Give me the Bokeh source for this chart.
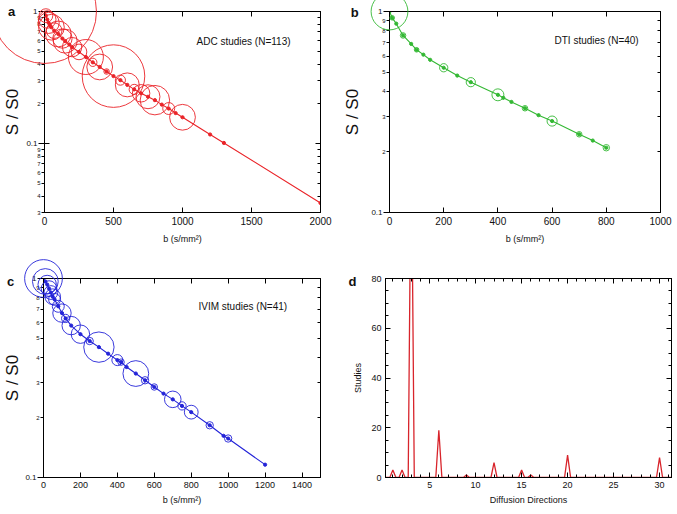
import numpy as np
from bokeh.plotting import figure
from bokeh.layouts import column, row
from bokeh.models import (Range1d, FixedTicker, LogAxis, LinearAxis, CustomJSTickFormatter,
                          Label, ColumnDataSource, SingleIntervalTicker)
from bokeh.embed import file_html
from bokeh.resources import INLINE
from bokeh.core.properties import value

FONT = "Liberation Sans"
RED = "#ea2328"
GREEN = "#33b833"
BLUE = "#2424d8"
DRED = "#d8242b"
INK = "#111111"
RADIUS_PER_STUDY = 0.46  # circle radius (px) per study

# ---------------- panel a : ADC ----------------
ADC_B = [0, 10, 20, 30, 40, 50, 70, 100, 130, 150, 180, 200, 250, 300, 350, 400, 450, 500,
         550, 600, 650, 700, 750, 800, 850, 900, 950, 1000, 1200, 1300, 2000]
ADC_S = [1.0, 0.93, 0.87, 0.82, 0.785, 0.76, 0.716, 0.676, 0.624, 0.596, 0.562, 0.537, 0.494,
         0.452, 0.412, 0.38, 0.351, 0.324, 0.302, 0.278, 0.257, 0.24, 0.226, 0.213, 0.197,
         0.184, 0.17, 0.158, 0.117, 0.101, 0.0354]
ADC_CIRCLE_B = [0, 10, 20, 30, 50, 70, 100, 130, 150, 200, 250, 300, 350, 400, 450, 500, 550,
                600, 650, 700, 750, 800, 900, 1000]
ADC_CIRCLE_N = [113, 15, 19, 23, 28, 17, 28, 21, 26, 21, 17, 38, 9, 28, 6, 68, 11, 26, 11, 19,
                26, 32, 13, 28]

# ---------------- panel b : DTI ----------------
DTI_B = [0, 10, 25, 50, 80, 100, 125, 150, 200, 250, 300, 400, 420, 450, 500, 550, 600, 700,
         750, 800]
DTI_S = [1.0, 0.93, 0.87, 0.76, 0.69, 0.645, 0.61, 0.575, 0.525, 0.48, 0.445, 0.385, 0.372,
         0.355, 0.33, 0.305, 0.285, 0.245, 0.228, 0.21]
DTI_CIRCLE_B = [0, 10, 50, 100, 200, 300, 400, 500, 600, 700, 800]
DTI_CIRCLE_N = [40, 5, 6, 5, 9, 10, 13, 6, 11, 6, 7]

# ---------------- panel c : IVIM ----------------
IVIM_B = [0, 10, 20, 30, 40, 50, 60, 80, 100, 120, 150, 200, 250, 300, 350, 400, 420, 450,
          500, 550, 600, 650, 700, 750, 800, 900, 975, 1000, 1200]
IVIM_S = [1.0, 0.966, 0.933, 0.89, 0.85, 0.81, 0.785, 0.725, 0.67, 0.63, 0.58, 0.525, 0.485,
          0.452, 0.419, 0.389, 0.38, 0.359, 0.333, 0.308, 0.285, 0.264, 0.247, 0.229, 0.213,
          0.183, 0.162, 0.157, 0.116]
IVIM_CIRCLE_B = [0, 10, 20, 30, 40, 50, 60, 80, 100, 120, 150, 200, 250, 300, 400, 420, 500,
                 550, 600, 700, 750, 800, 900, 1000]
IVIM_CIRCLE_N = [41, 28, 20, 17, 15, 17, 13, 13, 20, 9, 20, 20, 8, 33, 12, 7, 28, 8, 7, 18, 9,
                 15, 8, 8]

# ---------------- panel d : diffusion directions ----------------
DIRECTIONS = [1, 2, 3, 6, 9, 12, 15, 16, 20, 30]
DIR_STUDIES = [3, 3, 141, 19, 1, 6, 3, 1, 9, 8]
SPIKE_HALF_WIDTH = 0.33

# ---------------- axes ----------------
A_X_TICKS = [0, 500, 1000, 1500, 2000]
B_X_TICKS = [0, 200, 400, 600, 800, 1000]
C_X_TICKS = [0, 200, 400, 600, 800, 1000, 1200, 1400]
DEC_TICKS = [0.1, 1.0]
DEC_LABELS = ["0.1", "1"]
A_MINOR = [0.03, 0.04, 0.05, 0.06, 0.07, 0.08, 0.09, 0.2, 0.3, 0.4, 0.5, 0.6, 0.7, 0.8, 0.9]
A_MINOR_LABELS = ["3", "4", "5", "6", "7", "8", "9", "2", "3", "4", "5", "6", "7", "8", "9"]
BC_MINOR = [0.2, 0.3, 0.4, 0.5, 0.6, 0.7, 0.8, 0.9]
BC_MINOR_LABELS = ["2", "3", "4", "5", "6", "7", "8", "9"]

FMT_CODE = """
let best = 0, bd = Infinity;
for (let i = 0; i < tv.length; i++) {
  const d = Math.abs(Math.log(tv[i]) - Math.log(tick));
  if (d < bd) { bd = d; best = i; }
}
return tl[best];
"""


def in_frame_text(p, s, x, y, size):
    p.add_layout(Label(x=x, y=y, x_units="screen", y_units="screen", text=s,
                       text_font=FONT, text_font_size=size, text_align="left",
                       text_baseline="middle", text_color=INK))


def free_text(p, xs, ys, texts, size, align="left", baseline="middle", style="normal"):
    """Text glyph drawn above the frame clip (used for letters and digit labels)."""
    r = p.text(x=xs, y=ys, text=texts, text_font=value(FONT), text_font_size=value(size),
               text_align=align, text_baseline=baseline, text_font_style=style,
               text_color=INK)
    r.level = "overlay"
    return r


def base_style(p):
    p.xgrid.visible = False
    p.ygrid.visible = False
    p.outline_line_color = "black"
    p.outline_line_width = 1
    p.background_fill_color = "white"
    p.border_fill_color = "white"


def blank_axis(ax, ticker, tin, minor_in):
    ax.ticker = ticker
    ax.formatter = CustomJSTickFormatter(code="return ''")
    ax.major_label_text_font_size = "0px"
    ax.major_label_standoff = 0
    ax.major_tick_in = tin
    ax.major_tick_out = 0
    ax.minor_tick_in = minor_in
    ax.minor_tick_out = 0
    ax.axis_line_color = "black"
    ax.major_tick_line_color = "black"
    ax.minor_tick_line_color = "black"


def curve_panel(width, height, borders, x_end, x_ticks, y_start, minor, minor_labels,
                b, s, cb, cn, color, xtick_size, x_standoffs, ylab_standoff, letter, letter_px):
    left, right, top, bottom = borders
    fw = width - left - right
    fh = height - top - bottom
    p = figure(width=width, height=height, x_range=Range1d(0, x_end),
               y_range=Range1d(y_start, 1.0), y_axis_type="log",
               output_backend="svg", toolbar_location=None,
               min_border_left=left, min_border_right=right,
               min_border_top=top, min_border_bottom=bottom)
    base_style(p)

    def fx(px):
        return px / fw * x_end

    def fy(py):
        ly0 = np.log10(y_start)
        return float(10 ** (ly0 + py / fh * (0.0 - ly0)))

    xa = p.xaxis[0]
    xa.ticker = FixedTicker(ticks=x_ticks, minor_ticks=[])
    xa.major_tick_in = 5
    xa.major_tick_out = 0
    xa.major_label_text_font = FONT
    xa.major_label_text_font_size = xtick_size
    xa.major_label_text_color = INK
    xa.major_label_standoff = x_standoffs[0]
    xa.axis_label = "b (s/mm²)"
    xa.axis_label_text_font = FONT
    xa.axis_label_text_font_size = "9px"
    xa.axis_label_text_font_style = "normal"
    xa.axis_label_text_color = INK
    xa.axis_label_standoff = x_standoffs[1]
    xa.axis_line_color = "black"

    ya = p.yaxis[0]
    ya.ticker = FixedTicker(ticks=DEC_TICKS, minor_ticks=minor)
    ya.formatter = CustomJSTickFormatter(args=dict(tv=DEC_TICKS, tl=DEC_LABELS), code=FMT_CODE)
    ya.major_tick_in = 5
    ya.major_tick_out = 6
    ya.minor_tick_in = 0
    ya.minor_tick_out = 3
    ya.major_label_standoff = 1
    ya.major_label_text_font = FONT
    ya.major_label_text_font_size = "8px"
    ya.major_label_text_color = INK
    ya.axis_line_color = "black"
    ya.axis_label = "S / S0"
    ya.axis_label_text_font = FONT
    ya.axis_label_text_font_size = "17px"
    ya.axis_label_text_font_style = "normal"
    ya.axis_label_text_color = INK
    ya.axis_label_standoff = ylab_standoff

    ra = LogAxis()
    blank_axis(ra, FixedTicker(ticks=DEC_TICKS, minor_ticks=minor), 5, 3)
    p.add_layout(ra, "right")
    ta = LinearAxis()
    blank_axis(ta, FixedTicker(ticks=x_ticks, minor_ticks=[]), 5, 0)
    p.add_layout(ta, "above")

    # digit labels of the minor (2..9) log ticks, just left of the outward ticks
    free_text(p, [fx(-4)] * len(minor), minor, minor_labels, "6px", align="right")
    # panel letter
    free_text(p, [fx(letter_px[0])], [fy(letter_px[1])], [letter], "13px",
              baseline="top", style="bold")

    lookup = dict(zip(b, s))
    circ = ColumnDataSource(dict(x=cb, y=[lookup[v] for v in cb],
                                 size=[2 * RADIUS_PER_STUDY * n for n in cn]))
    p.line(b, s, line_color=color, line_width=1.1)
    p.scatter(b, s, size=3.2, marker="circle", fill_color=color, line_color=color)
    r = p.scatter("x", "y", size="size", marker="circle", source=circ, fill_color=None,
                  line_color=color, line_width=0.9)
    r.level = "overlay"
    return p


# panel a  (frame 40..320 x 11..212)
pa = curve_panel(340, 255, (40, 20, 11, 43), 2000, A_X_TICKS, 0.03, A_MINOR, A_MINOR_LABELS,
                 ADC_B, ADC_S, ADC_CIRCLE_B, ADC_CIRCLE_N, RED, "10px", (4, 6), 1,
                 "a", (-37, 209))
in_frame_text(pa, "ADC studies (N=113)", 152, 171, "10px")

# panel b  (frame 387..660 x 11..212)
pb = curve_panel(336, 255, (47, 16, 11, 43), 1000, B_X_TICKS, 0.1, BC_MINOR, BC_MINOR_LABELS,
                 DTI_B, DTI_S, DTI_CIRCLE_B, DTI_CIRCLE_N, GREEN, "10px", (4, 6), 6,
                 "b", (-39, 208))
in_frame_text(pb, "DTI studies (N=40)", 165, 172, "10px")

# panel c  (frame 40..320 x 278..478)
pc = curve_panel(340, 258, (40, 20, 23, 35), 1500, C_X_TICKS, 0.1, BC_MINOR, BC_MINOR_LABELS,
                 IVIM_B, IVIM_S, IVIM_CIRCLE_B, IVIM_CIRCLE_N, BLUE, "9px", (4, 4), 0,
                 "c", (-37, 205))
in_frame_text(pc, "IVIM studies (N=41)", 155, 171, "10px")

# panel d  (frame 385..671 x 278..477)
D_W, D_H = 336, 258
D_BORDERS = (45, 5, 23, 36)
D_X0, D_X1 = 0.2, 31.3
pd_ = figure(width=D_W, height=D_H, x_range=Range1d(D_X0, D_X1), y_range=Range1d(0, 80),
             output_backend="svg", toolbar_location=None,
             min_border_left=D_BORDERS[0], min_border_right=D_BORDERS[1],
             min_border_top=D_BORDERS[2], min_border_bottom=D_BORDERS[3])
base_style(pd_)
dx = pd_.xaxis[0]
dx.ticker = SingleIntervalTicker(interval=5, num_minor_ticks=5)
dy = pd_.yaxis[0]
dy.ticker = SingleIntervalTicker(interval=20, num_minor_ticks=4)
for ax, lab in ((dx, "Diffusion Directions"), (dy, "Studies")):
    ax.major_tick_in = 5
    ax.major_tick_out = 0
    ax.minor_tick_in = 3
    ax.minor_tick_out = 0
    ax.major_label_text_font = FONT
    ax.major_label_text_font_size = "9px"
    ax.major_label_text_color = INK
    ax.major_label_standoff = 4
    ax.axis_label = lab
    ax.axis_label_text_font = FONT
    ax.axis_label_text_font_size = "9px"
    ax.axis_label_text_font_style = "normal"
    ax.axis_label_text_color = INK
    ax.axis_line_color = "black"
dx.axis_label_standoff = 4
dy.axis_label_standoff = 5
rda = LinearAxis()
blank_axis(rda, SingleIntervalTicker(interval=20, num_minor_ticks=4), 5, 3)
pd_.add_layout(rda, "right")
tda = LinearAxis()
blank_axis(tda, SingleIntervalTicker(interval=5, num_minor_ticks=5), 5, 3)
pd_.add_layout(tda, "above")

dxs = [D_X0]
dys = [0]
for d, n in zip(DIRECTIONS, DIR_STUDIES):
    dxs += [d - SPIKE_HALF_WIDTH, d, d + SPIKE_HALF_WIDTH]
    dys += [0, n, 0]
dxs.append(D_X1)
dys.append(0)
pd_.line(dxs, dys, line_color=DRED, line_width=1.3)

d_fw = D_W - D_BORDERS[0] - D_BORDERS[1]
d_fh = D_H - D_BORDERS[2] - D_BORDERS[3]
free_text(pd_, [D_X0 + (-37) / d_fw * (D_X1 - D_X0)], [80 * 204 / d_fh], ["d"], "13px",
          baseline="top", style="bold")

layout = column(row(pa, pb), row(pc, pd_))
open("out.html", "w").write(file_html(layout, INLINE))
